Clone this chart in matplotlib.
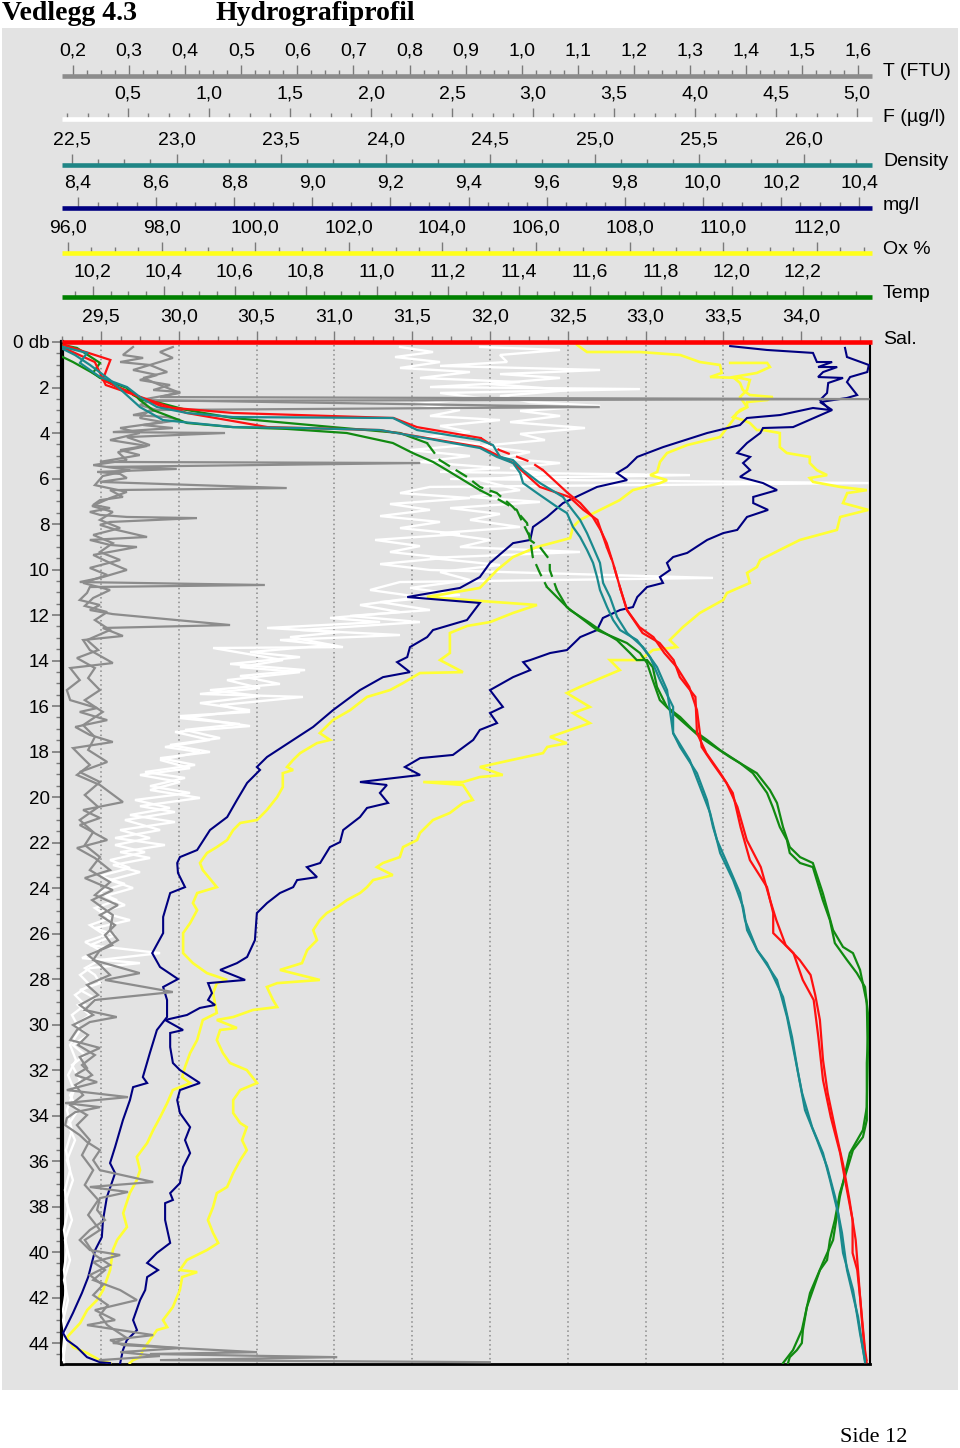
import matplotlib
matplotlib.use('Agg')
import matplotlib.pyplot as plt
from matplotlib.ticker import MultipleLocator, FuncFormatter
from matplotlib.patches import Rectangle

plt.rcParams['font.family'] = ['Liberation Sans', 'DejaVu Sans']

# ---------------- data (depth in dbar, values in axis units) ----------------
sal_a_depth = [0.13,0.79,1.67,2.42,2.86,3.12,3.34,3.74,4.22,4.75,5.27,5.63,6.64,7.08,7.69,8.26,8.84,9.71,10.90,11.78,12.79,13.23,13.98,14.73,15.60,17.19,18.07,18.95,19.82,21.32,22.77,23.96,25.10,25.98,26.86,28.04,28.92,30.55,32.44,34.07,35.65,37.14,38.59,40.04,40.79,42.11,44.31,44.75]
sal_a = [29.26,29.56,29.51,29.75,29.90,30.35,31.38,31.53,31.94,32.06,32.26,32.34,32.50,32.58,32.66,32.71,32.75,32.79,32.84,32.88,32.98,33.09,33.18,33.22,33.32,33.33,33.39,33.48,33.56,33.61,33.67,33.78,33.82,33.82,33.95,34.01,34.08,34.11,34.14,34.19,34.25,34.29,34.33,34.33,34.36,34.38,34.41,34.42]
sal_b_depth = [0.26,0.88,1.89,2.55,3.12,3.74,3.87,4.62,5.32,6.37,6.81,7.38,7.82,9.01,9.71,10.90,11.78,12.53,12.97,13.67,14.29,15.16,16.18,17.80,18.51,19.38,20.44,21.89,23.08,24.53,25.41,26.51,27.16,27.82,28.70,29.80,31.56,33.01,34.64,36.18,37.71,39.47,41.23,42.99,44.53,44.84]
sal_b = [29.26,29.46,29.53,29.81,30.05,30.57,31.29,31.94,32.15,32.32,32.51,32.60,32.69,32.75,32.79,32.84,32.88,32.96,33.05,33.12,33.20,33.28,33.33,33.36,33.43,33.52,33.59,33.65,33.74,33.80,33.84,33.90,33.99,34.06,34.09,34.12,34.14,34.17,34.22,34.27,34.31,34.35,34.37,34.39,34.41,34.42]

dens_a_depth = [0.22,0.48,0.92,1.54,1.98,2.42,2.86,3.12,3.30,3.34,3.87,4.31,4.53,5.05,5.19,5.63,6.20,6.81,7.25,7.82,8.40,9.01,9.71,10.59,11.21,12.09,12.79,13.41,14.29,15.30,17.19,18.37,19.56,20.70,22.46,23.65,24.84,25.85,26.73,28.04,29.67,31.43,33.01,34.51,35.65,36.84,38.29,40.04,41.67,43.56,44.75]
dens_a = [22.457,22.572,22.538,22.634,22.763,22.825,22.907,23.050,23.270,24.036,24.151,24.452,24.514,24.548,24.610,24.658,24.739,24.849,24.883,24.931,24.964,24.993,25.026,25.041,25.074,25.108,25.156,25.232,25.299,25.347,25.376,25.455,25.505,25.553,25.601,25.663,25.711,25.730,25.778,25.873,25.921,25.959,25.993,26.041,26.093,26.127,26.165,26.189,26.237,26.270,26.294]
dens_b_depth = [0.31,0.57,1.01,1.67,2.86,3.43,3.74,3.78,3.87,4.66,5.05,5.32,5.76,6.20,6.64,7.25,7.52,8.13,8.57,9.14,9.71,10.33,10.90,11.65,12.22,12.66,13.10,13.85,14.86,16.04,17.19,17.80,18.95,20.13,21.32,21.89,22.90,24.22,25.41,26.73,27.30,28.79,30.55,32.13,33.76,35.08,36.26,37.58,39.16,40.79,42.86,44.31,44.84]
dens_b = [22.457,22.514,22.586,22.682,22.825,22.935,23.270,23.591,23.974,24.452,24.533,24.610,24.644,24.658,24.725,24.821,24.868,24.897,24.931,24.964,24.993,25.012,25.026,25.060,25.089,25.122,25.203,25.266,25.313,25.376,25.376,25.409,25.490,25.538,25.567,25.586,25.634,25.696,25.720,25.778,25.825,25.902,25.945,25.974,26.007,26.065,26.113,26.151,26.184,26.208,26.261,26.285,26.294]

temp_a_depth = [0.13,0.26,0.92,1.36,1.58,2.02,2.33,2.55,2.68,2.99,3.34,3.74,4.00,4.44,5.19,5.93,6.37,6.64,7.25,7.96,8.70,9.01,9.58,10.02,10.90,11.65,12.09,12.66,13.23,13.67,14.11,14.86,15.74,16.31,17.36,18.24,18.95,19.69,20.26,21.32,22.20,22.64,22.90,24.22,25.85,26.59,26.86,27.60,29.05,31.25,33.63,34.64,35.65,37.58,39.47,40.48,41.80,43.43,44.31,44.88]
temp_a = [10.115,10.155,10.220,10.200,10.220,10.296,10.313,10.341,10.389,10.465,10.594,10.876,11.065,11.141,11.177,11.254,11.290,11.338,11.383,11.423,11.431,11.459,11.487,11.487,11.507,11.535,11.572,11.620,11.704,11.741,11.761,11.777,11.797,11.834,11.910,11.994,12.070,12.107,12.127,12.144,12.163,12.192,12.228,12.256,12.285,12.313,12.341,12.361,12.380,12.383,12.380,12.369,12.332,12.304,12.285,12.256,12.220,12.197,12.172,12.144]
temp_b_depth = [0.66,0.88,1.54,1.98,2.24,2.55,2.99,3.56,3.74,3.82,4.00,4.44,4.88,5.27,5.63,6.51,6.95,7.38,7.96,8.57,9.45,10.15,10.77,11.21,11.78,12.35,12.66,13.10,13.67,13.98,13.98,14.29,15.16,16.04,16.48,17.05,17.49,17.93,18.51,18.95,19.82,20.44,21.32,21.89,22.46,22.90,23.08,23.65,24.53,25.41,26.42,27.16,27.74,28.35,29.49,30.55,31.69,34.20,34.95,35.52,36.40,37.41,38.59,39.47,40.35,40.79,41.67,42.42,43.43,44.00,44.31,44.62,44.88]
temp_b = [10.115,10.144,10.220,10.268,10.313,10.332,10.369,10.465,10.594,10.746,10.915,11.045,11.101,11.158,11.197,11.290,11.346,11.394,11.411,11.431,11.439,11.459,11.479,11.507,11.544,11.600,11.628,11.676,11.713,11.732,11.761,11.777,11.789,11.817,11.854,11.890,11.930,11.966,12.023,12.059,12.099,12.115,12.135,12.155,12.163,12.192,12.228,12.239,12.256,12.276,12.290,12.324,12.352,12.375,12.383,12.383,12.380,12.380,12.369,12.341,12.324,12.304,12.290,12.276,12.268,12.248,12.228,12.211,12.200,12.197,12.183,12.163,12.158]

oxmg_a_depth = [0.18,0.35,0.48,0.88,0.88,1.10,1.10,1.32,1.54,1.58,1.80,2.24,2.55,2.99,2.90,3.21,3.34,3.65,4.00,4.62,5.05,5.49,5.76,6.07,6.37,7.08,7.69,8.13,8.70,8.84,9.71,10.33,10.81,11.21,11.47,12.22,12.66,12.97,13.41,13.85,14.07,14.51,14.73,15.30,16.18,16.92,17.49,18.24,18.68,18.81,19.38,20.13,20.88,21.45,22.33,22.64,22.90,23.34,23.96,24.22,25.27,25.98,26.86,27.47,28.00,28.35,28.92,29.67,30.24,31.25,32.31,32.57,32.75,33.32,34.20,35.38,36.09,36.53,37.58,38.59,39.34,39.91,41.10,41.80,42.68,43.56,43.87,44.18,44.62,44.84,44.88]
oxmg_a = [10.070,10.164,10.282,10.292,10.331,10.295,10.344,10.308,10.295,10.359,10.321,10.318,10.300,10.326,10.282,10.198,10.113,10.095,10.011,9.898,9.832,9.806,9.780,9.806,9.729,9.642,9.601,9.565,9.558,9.514,9.455,9.429,9.378,9.243,9.429,9.396,9.309,9.294,9.250,9.243,9.217,9.250,9.181,9.122,9.053,9.002,8.951,8.884,8.858,8.866,8.833,8.807,8.782,8.738,8.705,8.661,8.654,8.656,8.674,8.636,8.618,8.618,8.590,8.610,8.656,8.618,8.628,8.628,8.602,8.584,8.566,8.577,8.541,8.533,8.515,8.495,8.482,8.495,8.474,8.464,8.461,8.444,8.426,8.410,8.387,8.362,8.372,8.397,8.423,8.456,8.482]
oxmg_b_depth = [0.26,0.66,1.01,1.32,1.54,1.76,2.33,2.46,2.64,2.99,3.74,3.78,4.00,4.44,4.88,5.05,5.32,5.63,5.93,6.20,6.51,6.81,7.08,7.38,7.69,8.26,8.40,8.70,9.27,9.45,9.71,10.02,10.33,10.59,10.77,11.21,11.65,11.78,12.13,12.66,12.97,13.54,13.67,13.98,14.07,14.42,14.73,15.30,16.04,16.31,16.75,17.05,17.49,18.15,18.29,18.68,19.03,19.34,19.47,19.82,20.26,20.48,20.88,21.45,21.98,22.20,22.90,23.08,23.52,23.65,23.96,24.22,24.66,25.10,26.29,27.03,27.30,27.60,28.04,28.18,28.62,28.92,29.14,29.27,29.58,29.80,30.24,30.37,30.99,31.69,32.00,32.57,32.88,33.32,33.89,34.51,35.08,35.65,36.26,36.97,37.41,37.71,37.85,38.59,39.60,40.04,40.48,40.79,41.10,41.67,42.11,42.99,43.43,43.87,44.31,44.88]
oxmg_b = [10.364,10.369,10.425,10.421,10.377,10.369,10.395,10.369,10.300,10.331,10.231,10.154,10.147,10.113,10.088,10.121,10.103,10.121,10.095,10.154,10.190,10.129,10.129,10.167,10.113,10.088,10.052,10.011,9.960,9.924,9.908,9.916,9.890,9.898,9.857,9.832,9.821,9.788,9.744,9.729,9.686,9.652,9.609,9.558,9.540,9.558,9.514,9.455,9.488,9.455,9.473,9.429,9.412,9.360,9.276,9.237,9.276,9.122,9.191,9.173,9.194,9.140,9.122,9.079,9.071,9.045,9.020,8.986,9.012,8.961,8.951,8.917,8.884,8.858,8.853,8.833,8.807,8.764,8.828,8.733,8.743,8.733,8.751,8.712,8.679,8.623,8.669,8.636,8.636,8.643,8.661,8.712,8.661,8.654,8.661,8.687,8.674,8.687,8.669,8.661,8.636,8.643,8.623,8.623,8.636,8.602,8.577,8.605,8.577,8.572,8.559,8.541,8.551,8.525,8.515,8.508]

oxpct_a_depth = [0.13,0.44,0.44,0.57,0.88,1.01,1.36,1.54,1.58,1.67,2.11,2.42,2.86,3.12,3.43,3.78,4.18,4.53,4.88,5.27,5.71,5.85,6.07,6.20,6.51,6.95,7.38,7.82,8.13,8.62,9.01,9.45,10.02,10.81,11.21,11.38,11.56,11.91,12.31,12.48,12.79,13.67,13.98,14.51,14.55,14.99,15.30,15.60,16.18,16.62,17.19,17.49,17.63,18.07,18.37,18.68,18.81,18.95,19.56,20.00,20.57,21.01,21.14,21.45,21.89,22.20,22.46,22.90,23.21,23.96,24.09,24.22,24.66,24.97,25.54,25.98,26.86,27.30,27.74,28.04,28.18,28.62,29.49,29.80,30.24,30.68,31.25,31.87,32.31,32.57,32.88,33.45,34.07,34.64,35.21,35.82,36.40,36.84,37.41,38.29,38.90,39.47,39.91,40.79,41.67,42.11,42.55,43.12,43.74,44.18,44.44,44.75,44.88]
oxpct_a = [106.88,107.09,108.22,109.08,109.50,109.93,109.97,109.72,110.36,110.57,110.51,110.36,110.51,110.29,110.21,110.08,109.93,109.23,108.80,108.65,108.59,108.44,108.80,108.65,108.07,107.79,107.37,106.94,106.79,106.73,106.02,105.51,105.17,104.80,103.67,104.80,106.02,105.51,105.02,104.53,104.16,104.16,103.95,104.44,103.52,103.16,102.88,102.39,102.03,101.66,101.38,101.60,101.32,100.96,100.81,100.68,100.81,100.59,100.59,100.47,100.25,100.04,99.68,99.53,99.40,99.18,98.97,98.82,98.88,99.18,98.97,98.76,98.67,98.76,98.61,98.46,98.46,98.67,98.97,99.40,99.18,99.10,99.18,98.88,98.82,98.76,98.61,98.50,98.44,98.61,98.24,98.12,97.97,97.82,97.69,97.47,97.54,97.47,97.32,97.18,97.26,97.05,96.96,96.90,96.75,96.62,96.41,96.26,95.98,96.11,96.41,96.68,96.90]
oxpct_b_depth = [0.92,0.92,1.10,1.36,1.54,1.80,2.11,2.33,2.42,2.55,2.64,2.86,2.99,3.30,3.43,3.56,3.87,3.87,4.00,4.62,4.88,5.05,5.32,5.63,5.85,5.98,6.15,6.37,6.51,6.64,7.08,7.38,7.69,8.26,8.70,9.14,9.58,9.89,10.15,10.59,11.03,11.34,11.91,12.53,13.10,13.41,13.54,13.98,13.98,14.42,15.16,15.43,16.04,16.31,16.75,17.36,17.63,17.80,18.07,18.68,19.03,19.12,19.34,19.34,19.47,20.13,20.26,20.70,21.01,21.58,21.89,22.20,22.64,22.90,23.08,23.43,23.65,23.96,24.22,24.53,24.84,25.10,25.41,25.85,26.29,26.73,27.30,27.60,28.04,28.18,28.35,28.92,29.23,29.36,29.67,29.80,30.15,30.24,30.68,31.25,31.69,32.00,32.57,32.88,33.32,33.89,34.33,34.51,35.08,35.52,35.96,36.53,37.14,37.41,38.02,38.59,39.16,39.60,39.91,40.35,40.79,40.88,41.10,41.67,42.42,42.99,43.30,43.43,43.87,44.31,44.62,44.75,44.88]
oxpct_b = [110.15,110.94,111.00,110.72,110.21,110.36,110.42,110.57,111.06,110.94,110.51,110.51,110.36,110.21,110.42,110.57,110.72,110.85,111.21,111.21,111.36,111.85,111.85,112.00,112.22,111.85,111.92,112.50,113.07,112.65,112.56,113.10,112.50,112.43,111.64,111.21,110.79,110.72,110.51,110.57,110.08,110.00,109.50,109.14,108.86,109.01,108.50,108.22,107.58,107.79,106.94,106.66,107.15,106.79,107.15,106.30,106.66,106.24,106.15,104.80,105.29,104.80,104.44,103.59,104.44,104.65,104.44,104.16,103.80,103.52,103.46,103.16,103.09,102.73,102.60,102.94,102.52,102.39,102.24,101.96,101.75,101.53,101.38,101.24,101.32,101.11,101.00,100.53,101.38,100.47,100.25,100.38,100.47,99.95,99.53,99.18,99.61,99.25,99.18,99.31,99.46,99.82,100.04,99.68,99.53,99.53,99.68,99.82,99.72,99.82,99.68,99.53,99.40,99.18,99.10,98.99,99.10,99.21,98.97,98.54,98.39,98.76,98.44,98.39,98.24,98.03,98.12,97.90,97.75,97.60,97.54,97.39,97.32]

turb_a_depth = [0.22,0.57,0.70,0.88,1.01,1.23,1.45,1.67,1.89,2.11,2.20,2.42,2.51,2.59,2.77,2.99,3.21,3.30,3.43,3.65,3.78,3.96,4.00,4.18,4.53,4.75,4.97,5.27,5.32,5.49,5.58,5.71,5.80,5.98,6.15,6.42,6.51,6.81,6.95,7.16,7.30,7.47,7.60,7.69,7.74,7.91,8.04,8.26,8.57,8.70,8.92,9.01,9.36,9.71,10.02,10.37,10.55,10.68,10.77,11.03,11.34,11.56,11.78,11.96,12.44,12.57,12.92,13.10,13.54,14.11,14.33,14.86,15.30,15.74,16.09,16.26,16.62,16.92,17.27,17.58,17.85,18.15,18.59,19.03,19.47,20.22,20.57,20.92,21.23,21.89,22.24,22.68,23.21,23.56,24.09,24.53,25.19,25.85,26.29,26.73,27.16,27.74,28.04,28.57,28.92,29.36,29.67,29.89,30.24,30.68,31.03,31.43,31.91,32.22,32.53,32.88,33.19,33.45,33.63,33.85,34.11,34.42,34.86,35.16,35.52,35.96,36.40,36.92,37.14,37.36,37.63,38.15,38.59,39.03,39.47,39.91,40.13,40.44,40.79,41.23,41.67,42.11,42.55,42.99,43.21,43.43,43.65,43.87,44.09,44.40,44.48,44.62,44.75,44.84]
turb_a = [0.307,0.289,0.325,0.284,0.337,0.307,0.350,0.319,0.373,0.343,0.391,0.355,1.62,0.337,0.319,0.350,0.307,0.368,0.391,0.325,0.378,0.271,0.471,0.296,0.337,0.284,0.319,0.248,0.819,0.261,0.385,0.243,0.284,0.296,0.248,0.581,0.266,0.289,0.248,0.236,0.266,0.230,0.248,0.296,0.421,0.266,0.248,0.278,0.332,0.230,0.266,0.314,0.236,0.266,0.296,0.248,0.212,0.542,0.230,0.225,0.212,0.248,0.230,0.271,0.480,0.253,0.289,0.218,0.230,0.271,0.195,0.212,0.189,0.195,0.243,0.212,0.261,0.204,0.230,0.271,0.200,0.212,0.230,0.207,0.248,0.289,0.218,0.248,0.212,0.261,0.207,0.239,0.266,0.221,0.271,0.234,0.271,0.266,0.280,0.248,0.236,0.319,0.257,0.378,0.239,0.221,0.278,0.230,0.207,0.195,0.248,0.212,0.225,0.204,0.243,0.189,0.298,0.186,0.248,0.204,0.189,0.186,0.212,0.225,0.248,0.236,0.248,0.343,0.230,0.298,0.248,0.243,0.257,0.230,0.212,0.230,0.284,0.236,0.257,0.236,0.284,0.314,0.239,0.275,0.225,0.284,0.343,0.266,0.289,0.528,0.337,0.671,0.355,0.943]
turb_b_depth = [0.22,0.44,0.70,1.01,1.32,1.58,1.89,2.24,2.55,2.86,2.99,3.34,3.52,3.78,4.00,4.31,4.57,4.84,5.19,5.41,5.63,5.89,6.29,6.59,6.86,7.21,7.47,7.82,8.18,8.48,8.84,9.23,9.58,9.93,10.24,10.59,10.90,11.25,11.60,11.87,12.22,12.66,13.10,13.54,13.89,14.33,14.77,15.30,15.74,16.26,16.84,17.36,17.93,18.46,18.90,19.34,19.91,20.44,21.01,21.54,22.11,22.64,23.21,23.74,24.31,24.75,25.19,25.63,26.07,26.51,26.95,27.38,27.82,28.26,28.70,29.14,29.58,30.02,30.46,30.90,31.34,31.78,32.22,32.66,33.10,33.54,33.98,34.42,35.08,35.74,36.40,37.05,37.71,38.37,39.03,39.47,40.13,40.57,41.01,41.45,41.89,42.33,42.77,43.21,43.78,44.00,44.22,44.40,44.57,44.75]
turb_b = [0.378,0.355,0.378,0.337,0.368,0.325,0.355,0.391,0.319,1.139,0.337,0.319,0.360,0.284,0.319,0.266,0.332,0.280,0.296,0.236,0.302,0.253,0.239,0.296,0.266,0.234,0.271,0.248,0.284,0.236,0.271,0.248,0.284,0.230,0.261,0.218,0.266,0.236,0.221,0.261,0.239,0.266,0.225,0.245,0.207,0.239,0.227,0.248,0.221,0.253,0.218,0.239,0.227,0.261,0.212,0.248,0.221,0.245,0.212,0.236,0.221,0.248,0.230,0.266,0.239,0.280,0.248,0.275,0.257,0.270,0.227,0.248,0.266,0.225,0.245,0.212,0.236,0.200,0.227,0.209,0.239,0.216,0.234,0.204,0.218,0.195,0.225,0.207,0.230,0.216,0.236,0.221,0.245,0.227,0.248,0.221,0.239,0.266,0.230,0.253,0.236,0.262,0.248,0.261,0.296,0.271,0.391,0.284,0.355,0.248]

fluor_a_depth = [0.22,0.44,0.66,0.88,1.14,1.32,1.58,1.76,1.98,2.07,2.24,2.46,2.73,2.99,3.25,3.43,3.69,3.96,4.22,4.48,4.75,5.01,5.27,5.54,5.71,5.85,6.02,6.20,6.37,6.64,6.86,7.12,7.38,7.65,7.91,8.18,8.44,8.70,8.97,9.23,9.49,9.76,10.02,10.37,10.55,10.90,11.21,11.56,11.87,12.13,12.31,12.57,12.75,12.97,13.41,13.45,13.98,14.29,14.51,14.86,15.21,15.47,15.60,15.96,16.26,16.44,16.88,17.14,17.49,17.80,18.02,18.37,18.73,19.03,19.34,19.69,20.04,20.40,20.66,21.01,21.45,21.80,22.11,22.42,22.68,22.99,23.30,23.65,24.00,24.35,24.75,25.05,25.41,25.76,26.07,26.51,26.86,27.16,27.52,27.82,28.18,28.48,28.84,29.14,29.58,30.02,30.46,30.90,31.34,31.78,32.44,33.10,33.76,34.42,35.08,35.96,36.84,37.71,38.59,39.47,40.35,41.23,42.11,42.99,43.87,44.75]
fluor_a = [2.179,2.383,2.148,2.426,2.179,2.611,2.302,2.920,2.364,3.660,2.426,2.673,2.272,2.549,2.364,2.796,2.426,2.611,2.302,2.673,2.241,2.611,2.302,2.796,2.426,3.969,2.488,5.07,2.364,2.179,2.611,2.117,2.364,2.056,2.426,2.179,2.549,2.025,2.302,2.117,2.457,2.056,2.364,4.111,2.179,1.994,2.302,1.932,2.179,1.747,2.056,1.358,1.809,1.500,1.827,1.025,1.457,1.191,1.562,1.111,1.315,0.944,1.580,1.068,1.253,0.821,1.253,0.790,1.006,0.728,0.944,0.698,0.883,0.574,0.821,0.636,0.944,0.574,0.790,0.481,0.698,0.420,0.728,0.451,0.636,0.407,0.574,0.389,0.531,0.358,0.481,0.327,0.512,0.296,0.420,0.265,0.698,0.327,0.235,0.296,0.327,0.204,0.296,0.191,0.265,0.173,0.253,0.160,0.235,0.154,0.204,0.142,0.191,0.130,0.173,0.123,0.160,0.117,0.154,0.111,0.142,0.105,0.130,0.099,0.117,0.099]
fluor_b_depth = [0.22,0.35,0.57,0.88,1.05,1.23,1.41,1.58,1.85,2.11,2.37,2.64,2.81,3.03,3.25,3.52,3.78,4.04,4.31,4.57,4.84,5.10,5.32,5.54,5.80,6.07,6.51,6.81,7.03,7.30,7.56,7.82,8.13,8.40,8.70,9.01,9.23,9.49,9.80,10.11,10.46,10.81,11.12,11.43,11.78,12.04,12.31,12.66,12.88,13.10,13.32,13.63,13.85,14.15,14.42,14.68,15.03,15.30,15.56,15.87,16.18,16.53,16.79,17.05,17.41,17.71,18.02,18.29,18.59,18.90,19.16,19.52,19.82,20.13,20.48,20.79,21.10,21.45,21.80,22.11,22.42,22.77,23.12,23.47,23.82,24.18,24.53,24.88,25.32,25.63,26.07,26.37,26.73,27.08,27.30,27.52,27.82,28.26,28.70,29.14,29.58,30.24,30.90,31.56,32.22,32.88,33.76,34.64,35.52,36.40,37.27,38.15,39.03,39.91,40.79,41.67,42.55,43.43,44.31,44.84]
fluor_b = [2.673,3.167,2.796,2.840,2.426,3.414,2.796,3.167,2.735,3.228,2.796,2.981,3.414,2.920,3.167,2.858,3.321,2.920,3.074,2.673,2.981,2.796,3.167,2.858,3.086,2.673,2.920,2.611,3.043,2.488,2.796,2.611,2.920,2.426,2.735,2.549,3.290,2.364,2.796,2.426,2.611,2.241,2.549,2.056,2.364,1.870,2.302,1.562,2.179,1.438,1.747,1.253,1.562,1.130,1.593,1.191,1.438,1.006,1.315,0.944,1.253,0.821,1.191,0.852,1.068,0.759,1.006,0.698,0.914,0.605,0.852,0.636,0.883,0.543,0.759,0.512,0.790,0.451,0.636,0.420,0.605,0.389,0.512,0.327,0.481,0.315,0.432,0.296,0.389,0.265,0.358,0.235,0.327,0.216,0.574,0.265,0.204,0.265,0.173,0.235,0.154,0.204,0.142,0.179,0.130,0.167,0.123,0.154,0.117,0.142,0.111,0.130,0.105,0.123,0.105,0.117,0.099,0.111,0.099,0.105]

depth_ticks = list(range(0, 45, 2))
depth_labels = ['0 db'] + [str(v) for v in range(2, 45, 2)]

# scale definitions: key, label, line colour, limits, major step, minor step, line y (px), label y (px)
scales = [
    ('turb', 'T (FTU)', '#8c8c8c', (0.1804, 1.6207), 0.1, 0.025, 76, 72),
    ('fluor', 'F (µg/l)', '#ffffff', (0.0926, 5.080), 0.5, 0.125, 119, 117),
    ('dens', 'Density', '#1f8585', (22.452, 26.318), 0.5, 0.125, 165, 161),
    ('oxmg', 'mg/l', '#000080', (8.359, 10.428), 0.2, 0.05, 208, 206),
    ('oxpct', 'Ox %', '#ffff1a', (95.872, 113.137), 2.0, 0.5, 253, 250),
    ('temp', 'Temp', '#008000', (10.113, 12.389), 0.2, 0.05, 297, 294),
    ('sal', 'Sal.', '#ff0000', (29.249, 34.442), 0.5, 0.125, 342, 339),
]

# (depth range drawn with a broken line in the original, or None)
series = [
    ('fluor', '#ffffff', 1.7, [(fluor_a_depth, fluor_a, None), (fluor_b_depth, fluor_b, None)]),
    ('oxpct', '#ffff33', 1.9, [(oxpct_a_depth, oxpct_a, None), (oxpct_b_depth, oxpct_b, None)]),
    ('oxmg', '#000080', 1.5, [(oxmg_a_depth, oxmg_a, None), (oxmg_b_depth, oxmg_b, None)]),
    ('turb', '#8c8c8c', 1.6, [(turb_a_depth, turb_a, None), (turb_b_depth, turb_b, None)]),
    ('temp', '#118a11', 1.6, [(temp_a_depth, temp_a, (4.4, 10.9)), (temp_b_depth, temp_b, (6.5, 10.8))]),
    ('sal', '#ff1010', 1.6, [(sal_a_depth, sal_a, (4.2, 5.7)), (sal_b_depth, sal_b, (9.0, 10.9))]),
    ('dens', '#1a8a8e', 1.6, [(dens_a_depth, dens_a, None), (dens_b_depth, dens_b, None)]),
]

# ---------------- figure ----------------
W, H = 960, 1448
fig = plt.figure(figsize=(W / 100, H / 100), dpi=100)
BG = '#e3e3e3'
fig.patches.append(Rectangle((2 / W, 1 - 1390 / H), 956 / W, 1362 / H,
                             transform=fig.transFigure, facecolor=BG,
                             edgecolor='none', zorder=-10))

L, R, TOP, BOT = 62, 870, 342, 1364
rect = [L / W, 1 - BOT / H, (R - L) / W, (BOT - TOP) / H]
lims = {s[0]: s[3] for s in scales}

ax = fig.add_axes(rect)
ax.set_facecolor('none')
ax.set_ylim(44.92, 0)
ax.set_xlim(*lims['sal'])
ax.set_yticks(depth_ticks)
ax.set_yticklabels(depth_labels)
ax.yaxis.set_minor_locator(MultipleLocator(0.5))
ax.tick_params(axis='y', which='major', length=7, width=1.2, color='#7a7a7a',
               labelsize=13.5, pad=2)
ax.tick_params(axis='y', which='minor', length=4, width=1, color='#7a7a7a')
ax.set_xticks([])
for v in range(1, 10):
    xv = 29.0 + 0.5 * v
    ax.axvline(xv, color='#8a8a8a', lw=1.1, ls=(0, (1, 2)), zorder=0)
ax.spines['top'].set_visible(False)
ax.spines['left'].set_linewidth(3)
ax.spines['bottom'].set_linewidth(2)
ax.spines['right'].set_linewidth(1.5)
for s in ('left', 'bottom', 'right'):
    ax.spines[s].set_color('black')


def draw_profile(dax, dep, val, color, lw, broken):
    if broken is None:
        dax.plot(val, dep, color=color, lw=lw, solid_joinstyle='miter')
        return
    lo, hi = broken
    i0 = next(i for i, d in enumerate(dep) if d >= lo)
    i1 = max(i for i, d in enumerate(dep) if d <= hi)
    dax.plot(val[:i0 + 1], dep[:i0 + 1], color=color, lw=lw, solid_joinstyle='miter')
    dax.plot(val[i0:i1 + 1], dep[i0:i1 + 1], color=color, lw=lw, ls=(0, (6, 3)))
    dax.plot(val[i1:], dep[i1:], color=color, lw=lw, solid_joinstyle='miter')


# data axes, one per variable, sharing the depth axis
for key, color, lw, lines in series:
    dax = fig.add_axes(rect, sharey=ax)
    dax.set_xlim(*lims[key])
    dax.patch.set_visible(False)
    dax.axis('off')
    for dep, val, broken in lines:
        draw_profile(dax, dep, val, color, lw, broken)

fmt = FuncFormatter(lambda v, p: f'{v:.1f}'.replace('.', ','))

# header scales
for key, label, color, lim, major, minor, ypx, lypx in scales:
    sa = fig.add_axes([L / W, 1 - ypx / H, (R - L) / W + 2 / W, 1e-6])
    sa.set_xlim(lim[0], lim[1] + (lim[1] - lim[0]) * 2 / (R - L))
    sa.patch.set_visible(False)
    for s in ('left', 'right', 'bottom'):
        sa.spines[s].set_visible(False)
    sa.spines['top'].set_color(color)
    sa.spines['top'].set_linewidth(3.3)
    sa.spines['top'].set_capstyle('butt')
    sa.yaxis.set_visible(False)
    sa.xaxis.set_ticks_position('top')
    sa.xaxis.set_major_locator(MultipleLocator(major))
    sa.xaxis.set_minor_locator(MultipleLocator(minor))
    sa.xaxis.set_major_formatter(fmt)
    sa.tick_params(axis='x', which='major', direction='out', length=8, width=1,
                   color='#7a7a7a', labelsize=14, pad=4, top=True, bottom=False,
                   labeltop=True, labelbottom=False)
    sa.tick_params(axis='x', which='minor', direction='out', length=4, width=1,
                   color='#7a7a7a', top=True, bottom=False)
    fig.text(883 / W, 1 - lypx / H, label, fontsize=14, va='center', ha='left')

fig.text(2 / W, 1 - 14 / H, 'Vedlegg 4.3', fontsize=20, fontweight='bold',
         family=['Liberation Serif', 'DejaVu Serif'], va='center', ha='left')
fig.text(215 / W, 1 - 14 / H, 'Hydrografiprofil', fontsize=20, fontweight='bold',
         family=['Liberation Serif', 'DejaVu Serif'], va='center', ha='left')
fig.text(840 / W, 1 - 1437 / H, 'Side 12', fontsize=16,
         family=['Liberation Serif', 'DejaVu Serif'], va='center', ha='left')

fig.savefig('out.png', dpi=100, facecolor='white')
